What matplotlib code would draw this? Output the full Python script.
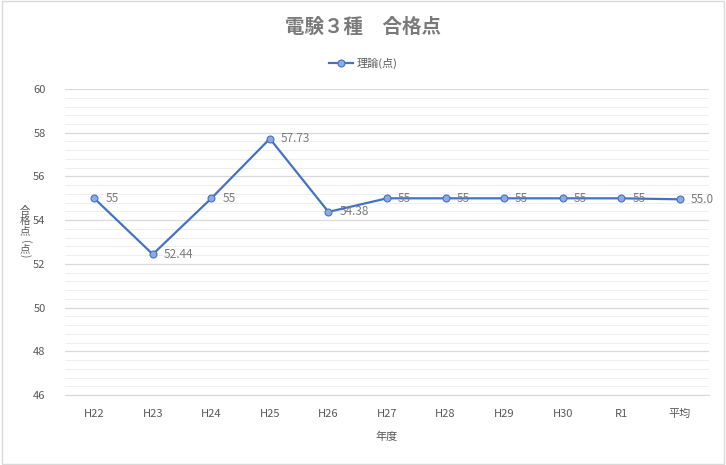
import matplotlib.pyplot as plt
from matplotlib.ticker import MultipleLocator
from matplotlib.patches import Rectangle

plt.rcParams['font.family'] = ['Noto Sans CJK JP', 'DejaVu Sans']

# データ
nendo = ["H22", "H23", "H24", "H25", "H26", "H27", "H28", "H29", "H30", "R1", "平均"]
gokaku = [55, 52.44, 55, 57.73, 54.38, 55, 55, 55, 55, 55, 54.955]
labels = ["55", "52.44", "55", "57.73", "54.38", "55", "55", "55", "55", "55", "55.0"]
ylabel_chars = ["合", "格", "点", "(", "点", ")"]

gray = "#595959"
lgray = "#7A7A7A"
blue = "#4472C4"

fig = plt.figure(figsize=(7.26, 4.65), dpi=100)
ax = fig.add_axes([0.0895, 0.1505, 0.887, 0.658])

x = list(range(len(nendo)))
ax.plot(x, gokaku, color=blue, linewidth=1.6, marker="o", markersize=5,
        markerfacecolor="#8FAADC", markeredgecolor=blue, markeredgewidth=0.8,
        label="理論(点)", zorder=3)

for xi, yi, s in zip(x, gokaku, labels):
    ax.annotate(s, (xi, yi), xytext=(8, 0), textcoords="offset points",
                va="center", ha="left", fontsize=8.5, color=lgray)

ax.set_xlim(-0.5, len(nendo) - 0.5)
ax.set_ylim(46, 60)
ax.set_xticks(x)
ax.set_xticklabels(nendo)
ax.yaxis.set_major_locator(MultipleLocator(2))
ax.yaxis.set_minor_locator(MultipleLocator(0.4))
ax.grid(which="major", axis="y", color="#D9D9D9", linewidth=0.9)
ax.grid(which="minor", axis="y", color="#EEEEEE", linewidth=0.7)
ax.set_axisbelow(True)
ax.tick_params(axis="both", which="both", length=0, colors=gray, labelsize=8)
ax.tick_params(axis="x", pad=10)
ax.tick_params(axis="y", pad=14)
for sp in ["top", "right", "left"]:
    ax.spines[sp].set_visible(False)
ax.spines["bottom"].set_color("#D9D9D9")

ax.set_xlabel("年度", fontsize=8, color=gray, labelpad=9)

# 縦書きのY軸ラベル
ys = [211, 221, 231, 242, 249, 256]
for ch, yy in zip(ylabel_chars, ys):
    rot = -90 if ch in "()" else 0
    fig.text(25 / 726, 1 - yy / 465, ch, fontsize=7.5, color=gray,
             ha="center", va="center", rotation=rot)

fig.text(0.5, 1 - 27 / 465, "電験３種　合格点", fontsize=14, fontweight="bold",
         color=lgray, ha="center", va="center")
fig.legend(loc="center", bbox_to_anchor=(0.5, 1 - 63 / 465), frameon=False,
           fontsize=8, labelcolor=gray, handlelength=2.2, handletextpad=0.3)

fig.patches.append(Rectangle((0.003, 0.003), 0.994, 0.994, transform=fig.transFigure,
                             fill=False, edgecolor="#D9D9D9", linewidth=1))

fig.savefig("out.png", dpi=100)
